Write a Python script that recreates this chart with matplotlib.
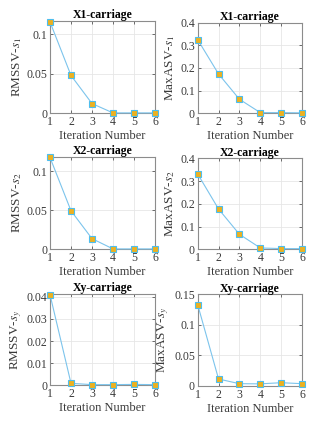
import numpy as np
import matplotlib.pyplot as plt

plt.rcParams['font.family'] = ['Liberation Serif', 'DejaVu Serif']
plt.rcParams['mathtext.fontset'] = 'stix'

iters = [1, 2, 3, 4, 5, 6]

rmssv_s1 = [0.1155, 0.0478, 0.0123, 0.0005, 0.0005, 0.0005]
maxasv_s1 = [0.325, 0.1735, 0.062, 0.003, 0.003, 0.002]
rmssv_s2 = [0.118, 0.0495, 0.0137, 0.0005, 0.0005, 0.0005]
maxasv_s2 = [0.331, 0.177, 0.066, 0.006, 0.003, 0.003]
rmssv_sy = [0.041, 0.0009, 0.0003, 0.0003, 0.0004, 0.0003]
maxasv_sy = [0.133, 0.0114, 0.0038, 0.0035, 0.0054, 0.0038]

titles = ['X1-carriage', 'X1-carriage', 'X2-carriage', 'X2-carriage',
          'Xy-carriage', 'Xy-carriage']
ylabels = ['RMSSV-$s_1$', 'MaxASV-$s_1$', 'RMSSV-$s_2$', 'MaxASV-$s_2$',
           'RMSSV-$s_y$', 'MaxASV-$s_y$']
series = [rmssv_s1, maxasv_s1, rmssv_s2, maxasv_s2, rmssv_sy, maxasv_sy]
yticks = [[0, 0.05, 0.1], [0, 0.1, 0.2, 0.3, 0.4],
          [0, 0.05, 0.1], [0, 0.1, 0.2, 0.3, 0.4],
          [0, 0.01, 0.02, 0.03, 0.04], [0, 0.05, 0.1, 0.15]]
yticklabels = [['0', '0.05', '0.1'], ['0', '0.1', '0.2', '0.3', '0.4'],
               ['0', '0.05', '0.1'], ['0', '0.1', '0.2', '0.3', '0.4'],
               ['0', '0.01', '0.02', '0.03', '0.04'], ['0', '0.05', '0.1', '0.15']]
ylims = [(0, 0.117), (0, 0.4), (0, 0.119), (0, 0.4), (0, 0.0413), (0, 0.15)]

# axes boxes in pixels: left, right, top, bottom
W, H = 334, 422
boxes = [(50, 155, 20.7, 113.3), (197.7, 302, 22.7, 113.3),
         (50, 155, 156.7, 249.3), (197.7, 302, 158.3, 249.3),
         (50, 155, 294, 385.3), (197.7, 302, 294.3, 386)]

line_c = '#7cc4ec'
face_c = '#EDB120'
edge_c = '#4DBEEE'
text_c = '#3a3a3a'

fig = plt.figure(figsize=(W / 100, H / 100), dpi=100)

for i in range(6):
    l, r, t, b = boxes[i]
    ax = fig.add_axes([l / W, 1 - b / H, (r - l) / W, (b - t) / H])
    ax.plot(iters, series[i], '-', color=line_c, lw=0.8,
            marker='s', markersize=5, markerfacecolor=face_c,
            markeredgecolor=edge_c, markeredgewidth=0.8, clip_on=False, zorder=3)
    ax.set_xlim(1, 6)
    ax.set_ylim(*ylims[i])
    ax.set_xticks(iters)
    ax.set_yticks(yticks[i])
    ax.set_yticklabels(yticklabels[i])
    ax.grid(True, color='#e6e6e6', lw=0.6)
    ax.set_axisbelow(True)
    for s in ax.spines.values():
        s.set_color('#8c8c8c')
        s.set_linewidth(0.8)
    ax.tick_params(direction='in', length=2, width=0.6, color='#555555',
                   labelsize=8.5, labelcolor=text_c, pad=2,
                   top=True, right=True)
    ax.set_title(titles[i], fontsize=8.5, fontweight='bold', pad=2)
    ax.set_ylabel(ylabels[i], fontsize=9.5, color=text_c, labelpad=2)
    ax.set_xlabel('Iteration Number', fontsize=9, color=text_c, labelpad=1.5)

plt.savefig('out.png', dpi=100)
